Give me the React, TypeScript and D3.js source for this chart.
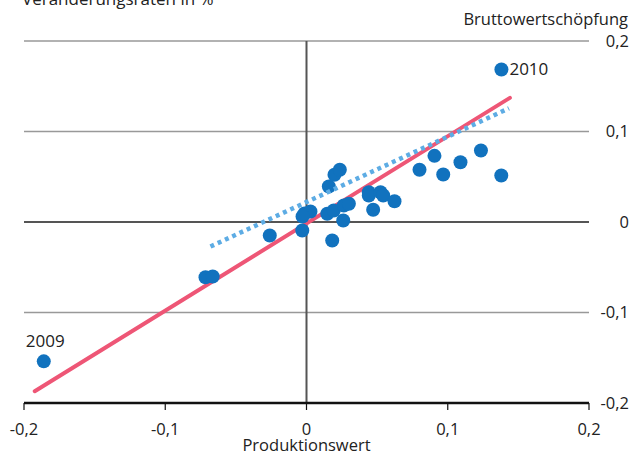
import React from "react";
import * as d3 from "d3";

const xValues = [-0.186, 0.138, -0.0715, -0.0664, -0.026, -0.003, -0.0014, 0.0028, -0.0028, 0.0158, 0.0198, 0.0236, 0.0147, 0.0193, 0.0264, 0.03, 0.026, 0.0182, 0.0441, 0.0441, 0.0524, 0.0543, 0.0623, 0.0472, 0.08, 0.0906, 0.0968, 0.109, 0.1235, 0.1379];
const yValues = [-0.154, 0.1685, -0.0611, -0.0602, -0.0149, -0.0094, 0.0094, 0.0116, 0.0061, 0.0392, 0.0522, 0.0577, 0.0091, 0.0127, 0.0182, 0.0201, 0.0017, -0.0204, 0.0329, 0.0293, 0.0329, 0.0293, 0.023, 0.0135, 0.0577, 0.0731, 0.0525, 0.0661, 0.079, 0.0514];
const pointLabels = ["2009", "2010"];
const trendSolid = [[-0.1924, -0.187], [0.144, 0.1372]];
const trendDotted = [[-0.068, -0.0271], [0.1433, 0.1256]];
const xTicks = [-0.2, -0.1, 0, 0.1, 0.2];
const yTicks = [-0.2, -0.1, 0, 0.1, 0.2];
const fmt = (v: number) => (v === 0 ? "0" : String(v).replace(".", ","));

export default function App() {
  const W = 633, H = 456;
  const x = d3.scaleLinear().domain([-0.2, 0.2]).range([24, 589]);
  const y = d3.scaleLinear().domain([-0.2, 0.2]).range([403, 41]);
  const line = d3.line<number[]>().x((d) => x(d[0])).y((d) => y(d[1]));
  const font = "'Open Sans', sans-serif";
  const fs = 16.5;
  return (
    <div style={{ position: "absolute", left: 0, top: 0 }}>
      <svg width={W} height={H} style={{ display: "block", fontFamily: font }}>
        <text x={22} y={5} fontSize={17} fill="#222">Veränderungsraten in %</text>
        <text x={628} y={25} fontSize={fs} textAnchor="end" fill="#222">Bruttowertschöpfung</text>
        {yTicks.filter((t) => t !== -0.2).map((t) => (
          <line key={t} x1={x(-0.2)} x2={x(0.2)} y1={y(t)} y2={y(t)} stroke={t === 0 ? "#555" : "#999"} strokeWidth={t === 0 ? 1.8 : 1.5} />
        ))}
        <line x1={x(0)} x2={x(0)} y1={y(0.2)} y2={y(-0.2)} stroke="#555" strokeWidth={2} />
        {yTicks.map((t) => (
          <text key={t} x={629} y={y(t)} dy="0.35em" fontSize={fs} textAnchor="end" fill="#222">{fmt(t)}</text>
        ))}
        <line x1={x(-0.2)} x2={x(0.2)} y1={y(-0.2)} y2={y(-0.2)} stroke="#111" strokeWidth={2.5} />
        {xTicks.map((t) => (
          <g key={t}>
            <line x1={x(t)} x2={x(t)} y1={y(-0.2)} y2={y(-0.2) + 7} stroke="#111" strokeWidth={1.2} />
            <text x={x(t)} y={435} fontSize={fs} textAnchor="middle" fill="#222">{fmt(t)}</text>
          </g>
        ))}
        <text x={x(0)} y={451} fontSize={fs} textAnchor="middle" fill="#222">Produktionswert</text>
        <path d={line(trendSolid) || ""} stroke="#EE5676" strokeWidth={4} fill="none" strokeLinecap="round" />
        {xValues.map((v, i) => (
          <circle key={i} cx={x(v)} cy={y(yValues[i])} r={7} fill="#1172BE" />
        ))}
        <path d={line(trendDotted) || ""} stroke="#5DACE4" strokeWidth={4.5} fill="none" strokeDasharray="4 4" />
        <text x={x(xValues[0]) - 18} y={y(yValues[0]) - 14} fontSize={17} fill="#222">{pointLabels[0]}</text>
        <text x={x(xValues[1]) + 8} y={y(yValues[1])} dy="0.35em" fontSize={17} fill="#222">{pointLabels[1]}</text>
      </svg>
    </div>
  );
}
